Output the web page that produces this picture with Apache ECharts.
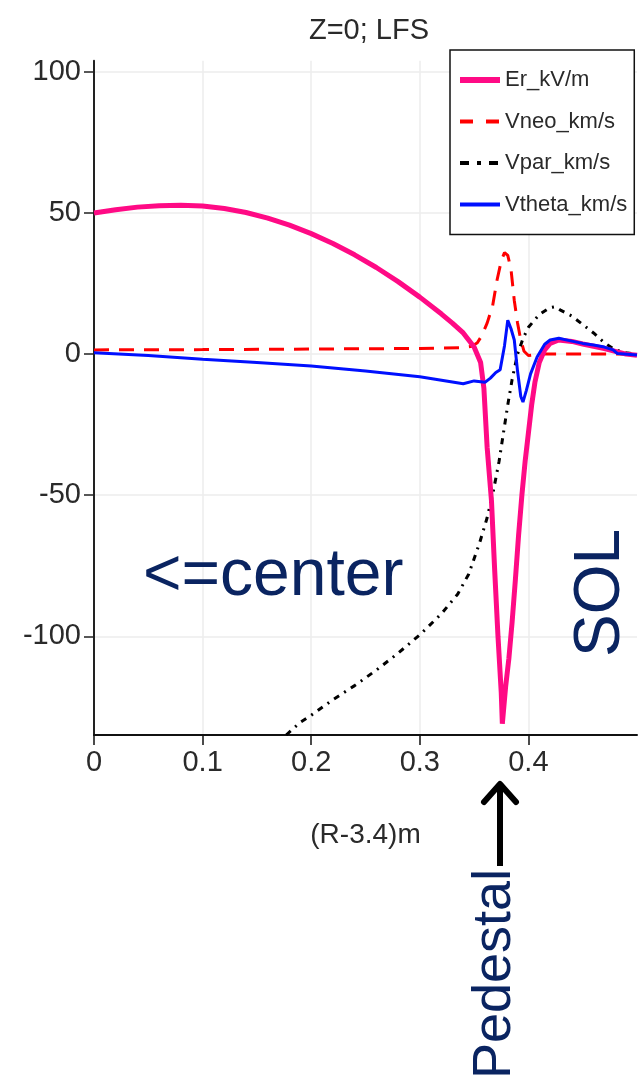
<!DOCTYPE html>
<html>
<head>
<meta charset="utf-8">
<title>Z=0; LFS</title>
<script src="https://cdn.jsdelivr.net/npm/echarts@6/dist/echarts.min.js"></script>
<style>
  html, body { margin: 0; padding: 0; background: #fff; }
  #chart { width: 643px; height: 1077px; }
</style>
</head>
<body>
<div id="chart"></div>
<script>
// Radial profiles along (R-3.4) at Z=0, low-field side
const erX = [0, 0.02, 0.04, 0.06, 0.08, 0.10, 0.12, 0.14, 0.16, 0.18, 0.20, 0.22, 0.24, 0.26, 0.28, 0.30, 0.32, 0.33, 0.34, 0.35, 0.356, 0.359, 0.362, 0.366, 0.369, 0.372, 0.375, 0.376, 0.379, 0.382, 0.385, 0.388, 0.391, 0.394, 0.397, 0.400, 0.403, 0.406, 0.410, 0.415, 0.420, 0.428, 0.44, 0.45, 0.46, 0.47, 0.48, 0.49, 0.50];
const erY = [50, 51.2, 52.1, 52.6, 52.8, 52.5, 51.6, 50.2, 48.2, 45.7, 42.7, 39.2, 35.2, 30.7, 25.7, 20.2, 14.2, 11, 7.5, 2.5, -3, -12, -33, -52, -77, -100, -120, -131, -118, -108, -95, -80, -64, -50, -38, -28, -18, -10, -3, 1.5, 3.8, 5, 4.5, 3.6, 2.8, 2, 1, 0, -0.4];

const vneoX = [0, 0.10, 0.20, 0.30, 0.34, 0.348, 0.353, 0.357, 0.362, 0.367, 0.371, 0.375, 0.378, 0.381, 0.384, 0.387, 0.390, 0.393, 0.396, 0.400, 0.41, 0.45, 0.50];
const vneoY = [1.5, 1.6, 1.8, 2.0, 2.3, 2.8, 4, 6.5, 11, 17, 26, 33, 36, 35, 30, 19, 11, 5, 1, -0.5, 0, 0, 0];

const vparX = [0.177, 0.19, 0.20, 0.22, 0.24, 0.26, 0.28, 0.30, 0.32, 0.335, 0.345, 0.355, 0.362, 0.368, 0.373, 0.377, 0.381, 0.385, 0.390, 0.395, 0.400, 0.41, 0.42, 0.425, 0.43, 0.44, 0.45, 0.46, 0.47, 0.48, 0.49, 0.50];
const vparY = [-135, -130.5, -128, -122.5, -117.5, -112, -106, -99.5, -92, -85, -78, -67, -58, -48, -38, -28, -18, -9, 0, 5.5, 9.5, 14, 16.5, 16.8, 15.5, 13.5, 10.5, 7.5, 4, 1.5, 0.5, 0];

const vthetaX = [0, 0.05, 0.10, 0.15, 0.20, 0.25, 0.30, 0.34, 0.35, 0.36, 0.365, 0.370, 0.374, 0.378, 0.381, 0.384, 0.387, 0.390, 0.393, 0.395, 0.398, 0.402, 0.408, 0.415, 0.420, 0.428, 0.44, 0.45, 0.46, 0.47, 0.478, 0.482, 0.50];
const vthetaY = [0.5, -0.5, -1.8, -3, -4.2, -6, -8, -10.5, -9.5, -10, -8.5, -6.5, -5.5, 3, 12, 9, 5, -6, -15, -17, -13, -7, -1, 3.5, 5, 5.6, 4.6, 3.8, 3.2, 2.5, 1.5, 0.2, -0.3];

const seriesNames = ['Er_kV/m', 'Vneo_km/s', 'Vpar_km/s', 'Vtheta_km/s'];
const seriesColors = ['#ff0a85', '#ff0000', '#000000', '#0010ff'];
const xTicks = [0, 0.1, 0.2, 0.3, 0.4];
const yTicks = [-100, -50, 0, 50, 100];

const zip = (xs, ys) => xs.map((x, i) => [x, ys[i]]);

const sans = "'Liberation Sans', Arial, sans-serif";
const navy = '#0a2461';
const ink = '#2a2a2a';

// line looks for the plotted series and for their legend keys
const lineLooks = [
  { color: seriesColors[0], width: 5 },
  { color: seriesColors[1], width: 3, type: [15, 10] },
  { color: seriesColors[2], width: 3, type: [6, 6, 2, 6] },
  { color: seriesColors[3], width: 3 }
];
const legendLooks = [
  { color: seriesColors[0], width: 6 },
  { color: seriesColors[1], width: 4, type: [13, 13] },
  { color: seriesColors[2], width: 4, type: [9, 8, 4, 8] },
  { color: seriesColors[3], width: 4 }
];
const seriesData = [zip(erX, erY), zip(vneoX, vneoY), zip(vparX, vparY), zip(vthetaX, vthetaY)];
const seriesZ = [3, 2, 2, 4];

const chart = echarts.init(document.getElementById('chart'), null, { renderer: 'canvas' });

chart.setOption({
  backgroundColor: '#ffffff',
  animation: false,
  title: {
    text: 'Z=0; LFS',
    left: 364,
    top: 11,
    textAlign: 'center',
    textStyle: { fontFamily: sans, fontSize: 29, fontWeight: 'normal', color: ink }
  },
  legend: {
    orient: 'vertical',
    left: 450,
    top: 50,
    padding: [15, 7, 15, 7],
    itemGap: 11.5,
    itemWidth: 40,
    itemHeight: 2,
    itemStyle: { opacity: 0 },
    borderColor: '#111',
    borderWidth: 1.5,
    backgroundColor: '#fff',
    textStyle: { fontFamily: sans, fontSize: 22, color: ink, lineHeight: 30 },
    data: seriesNames.map((name, i) => ({ name, lineStyle: legendLooks[i], itemStyle: { opacity: 0 } }))
  },
  grid: { left: 94, right: 6, top: 60.7, bottom: 342 },
  xAxis: {
    type: 'value',
    min: 0,
    max: 0.5,
    name: '(R-3.4)m',
    nameLocation: 'middle',
    nameGap: 86,
    nameTextStyle: { fontFamily: sans, fontSize: 28, color: ink },
    axisLine: { onZero: false, lineStyle: { color: '#111', width: 2 } },
    axisTick: { show: true, length: 10, customValues: xTicks, lineStyle: { color: '#111', width: 1.5 } },
    axisLabel: {
      customValues: xTicks,
      margin: 13,
      fontFamily: sans,
      fontSize: 29,
      color: ink,
      formatter: v => String(+v.toFixed(1))
    },
    splitLine: { show: true, lineStyle: { color: '#ececec', width: 1.5 } }
  },
  yAxis: {
    type: 'value',
    min: -135,
    max: 104,
    axisLine: { show: true, onZero: false, lineStyle: { color: '#222', width: 2 } },
    axisTick: { show: true, length: 10, customValues: yTicks, lineStyle: { color: '#222', width: 1.5 } },
    axisLabel: {
      customValues: yTicks,
      margin: 13,
      fontFamily: sans,
      fontSize: 29,
      color: ink
    },
    splitLine: { show: true, lineStyle: { color: '#ececec', width: 1.5 } }
  },
  series: seriesNames.map((name, i) => ({
    name,
    type: 'line',
    symbol: 'none',
    z: seriesZ[i],
    data: seriesData[i],
    lineStyle: lineLooks[i],
    itemStyle: { color: seriesColors[i] }
  })),
  graphic: [
    {
      type: 'text', z: 10,
      style: { x: 143, y: 577, text: '<=center', font: '66px ' + sans, fill: navy, textAlign: 'left', textVerticalAlign: 'middle' }
    },
    {
      type: 'text', z: 10, x: 601, y: 593, rotation: Math.PI / 2,
      style: { x: 0, y: 0, text: 'SOL', font: '64px ' + sans, fill: navy, textAlign: 'center', textVerticalAlign: 'middle' }
    },
    {
      type: 'text', z: 10, x: 495, y: 974, rotation: Math.PI / 2,
      style: { x: 0, y: 0, text: 'Pedestal', font: '54px ' + sans, fill: navy, textAlign: 'center', textVerticalAlign: 'middle' }
    },
    {
      type: 'polyline', z: 10,
      shape: { points: [[500, 866], [500, 786]] },
      style: { stroke: '#000', lineWidth: 6, fill: null }
    },
    {
      type: 'polyline', z: 10,
      shape: { points: [[484, 802], [500, 784], [516, 802]] },
      style: { stroke: '#000', lineWidth: 6, fill: null, lineJoin: 'round', lineCap: 'round' }
    }
  ]
});
</script>
</body>
</html>
